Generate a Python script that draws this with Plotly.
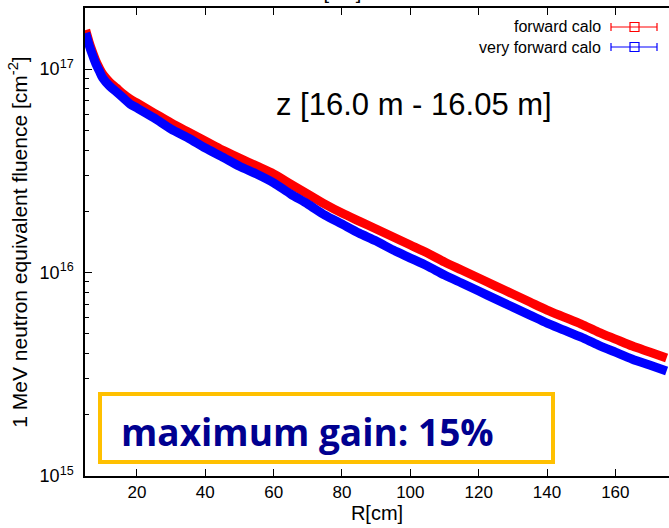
import plotly.graph_objects as go

R_cm = [5, 6, 7, 8, 9, 10, 12, 14, 16, 18, 20, 25, 30, 35, 40, 45, 50, 55, 60, 65, 70,
        75, 80, 85, 90, 95, 100, 105, 110, 115, 120, 125, 130, 135, 140, 145, 150,
        155, 160, 165, 170, 175]

forward_calo = [1.555e17, 1.358e17, 1.212e17, 1.095e17, 1.011e17, 9.45e16, 8.63e16,
                8.07e16, 7.54e16, 7.12e16, 6.81e16, 6.08e16, 5.43e16, 4.90e16, 4.43e16,
                4.00e16, 3.65e16, 3.34e16, 3.05e16, 2.72e16, 2.43e16, 2.17e16, 1.96e16,
                1.79e16, 1.636e16, 1.494e16, 1.365e16, 1.247e16, 1.126e16, 1.029e16,
                9.40e15, 8.58e15, 7.84e15, 7.16e15, 6.54e15, 6.04e15, 5.58e15, 5.10e15,
                4.71e15, 4.35e15, 4.07e15, 3.80e15]

very_forward_calo = [1.504e17, 1.313e17, 1.172e17, 1.059e17, 9.78e16, 9.03e16, 8.25e16,
                     7.72e16, 7.21e16, 6.73e16, 6.44e16, 5.75e16, 5.07e16, 4.58e16, 4.09e16,
                     3.70e16, 3.33e16, 3.05e16, 2.76e16, 2.43e16, 2.17e16, 1.915e16, 1.73e16,
                     1.562e16, 1.428e16, 1.289e16, 1.178e16, 1.076e16, 9.72e15, 8.88e15,
                     8.11e15, 7.40e15, 6.76e15, 6.18e15, 5.64e15, 5.21e15, 4.81e15, 4.40e15,
                     4.06e15, 3.75e15, 3.51e15, 3.28e15]

series_names = ["forward calo", "very forward calo"]
series_colors = ["#FF0000", "#0000FF"]
x_ticks = [20, 40, 60, 80, 100, 120, 140, 160]
y_ticks = [1e15, 1e16, 1e17]
y_ticklabels = ["10<sup>15</sup>", "10<sup>16</sup>", "10<sup>17</sup>"]
y_minor_ticks = [m * 10 ** e for e in (15, 16) for m in range(2, 10)] + [2e17]

FONT = "Liberation Sans, Arial, sans-serif"

fig = go.Figure()
for name, vals, col in zip(series_names, [forward_calo, very_forward_calo], series_colors):
    fig.add_trace(go.Scatter(
        x=R_cm, y=vals, name=name, mode="lines",
        line=dict(color=col, width=9, shape="spline", smoothing=0.8),
        showlegend=False,
    ))

L, R, T, B = 85, 0, 8, 52
W, H = 669, 528
pw, ph = W - L - R, H - T - B

def px(xp):
    return (xp - L) / pw

def py(yp):
    return (H - B - yp) / ph

shapes = []
annotations = []
# manual gnuplot-style legend
for i, (name, col) in enumerate(zip(series_names, series_colors)):
    yc = 27 + 20 * i
    annotations.append(dict(text=name, xref="paper", yref="paper", x=px(603), y=py(yc),
                            xanchor="right", yanchor="middle", showarrow=False,
                            font=dict(family=FONT, size=16, color="black")))
    shapes.append(dict(type="line", xref="paper", yref="paper", x0=px(611), x1=px(657),
                       y0=py(yc), y1=py(yc), line=dict(color=col, width=1.2)))
    for xe in (611, 657):
        shapes.append(dict(type="line", xref="paper", yref="paper", x0=px(xe), x1=px(xe),
                           y0=py(yc - 4), y1=py(yc + 4), line=dict(color=col, width=1.2)))
    shapes.append(dict(type="rect", xref="paper", yref="paper", x0=px(630), x1=px(639),
                       y0=py(yc - 4.5), y1=py(yc + 4.5), line=dict(color=col, width=1.2),
                       fillcolor="rgba(0,0,0,0)"))

annotations.append(dict(text="z [16.0 m - 16.05 m]", xref="paper", yref="paper",
                        x=px(414), y=py(104), xanchor="center", yanchor="middle",
                        showarrow=False, font=dict(family=FONT, size=31, color="black")))

shapes.append(dict(type="rect", xref="paper", yref="paper", x0=px(100), x1=px(553),
                   y0=py(462), y1=py(394), line=dict(color="#FFC000", width=4),
                   fillcolor="rgba(0,0,0,0)"))
annotations.append(dict(text="<b>maximum gain: 15%</b>", xref="paper", yref="paper",
                        x=px(119), y=py(431), xanchor="left", yanchor="middle",
                        showarrow=False,
                        font=dict(family="Open Sans, sans-serif", size=37, color="#000090")))

# partially visible top axis title (cut off in the original)
annotations.append(dict(text="R[cm]", xref="paper", yref="paper", x=px(335), y=py(5),
                        xanchor="center", yanchor="bottom", showarrow=False,
                        font=dict(family=FONT, size=20, color="black")))

fig.update_layout(
    width=W, height=H,
    margin=dict(l=L, r=R, t=T, b=B, pad=0),
    plot_bgcolor="white", paper_bgcolor="white",
    font=dict(family=FONT, size=16, color="black"),
    shapes=shapes, annotations=annotations,
    showlegend=False,
)
fig.update_xaxes(
    range=[4.8, 175.7], tickvals=x_ticks, ticks="inside", ticklen=7, tickwidth=1,
    tickcolor="black", showline=True, linecolor="black", linewidth=1.5, mirror="ticks",
    showgrid=False, zeroline=False, tickfont=dict(family=FONT, size=17),
    title=dict(text="R[cm]", font=dict(family=FONT, size=20), standoff=5),
)
fig.update_yaxes(
    type="log", range=[15, 17.3], tickvals=y_ticks, ticktext=y_ticklabels,
    ticks="inside", ticklen=7, tickwidth=1, tickcolor="black",
    minor=dict(tickvals=y_minor_ticks, ticks="inside", ticklen=4, tickwidth=1,
               tickcolor="black", showgrid=False),
    showline=True, linecolor="black", linewidth=1.5, mirror=False,
    showgrid=False, zeroline=False, tickfont=dict(family=FONT, size=18),
    ticklabelstandoff=6,
    title=dict(text="1 MeV neutron equivalent fluence [cm<sup>-2</sup>]",
               font=dict(family=FONT, size=21), standoff=6),
)

fig.write_html("out.html")
